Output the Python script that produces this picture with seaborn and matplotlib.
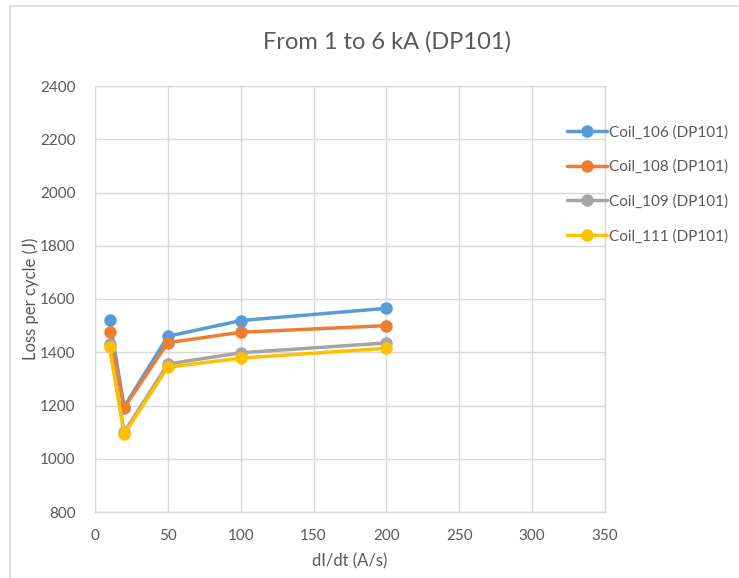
import matplotlib
matplotlib.use("Agg")
import matplotlib.pyplot as plt
from matplotlib.patches import Rectangle
import seaborn as sns
import pandas as pd

# Ramp rate (A/s) and loss per cycle (J) for each coil
didt = [10, 20, 50, 100, 200]
coil_106 = [1522, 1195, 1460, 1519, 1565]
coil_108 = [1476, 1192, 1436, 1475, 1500]
coil_109 = [1431, 1100, 1356, 1398, 1435]
coil_111 = [1418, 1092, 1344, 1378, 1415]
series_names = ["Coil_106 (DP101)", "Coil_108 (DP101)", "Coil_109 (DP101)", "Coil_111 (DP101)"]
palette = ["#5B9BD5", "#ED7D31", "#A5A5A5", "#FFC000"]

x_ticks = [0, 50, 100, 150, 200, 250, 300, 350]
y_ticks = [800, 1000, 1200, 1400, 1600, 1800, 2000, 2200, 2400]

rows = []
for name, vals in zip(series_names, [coil_106, coil_108, coil_109, coil_111]):
    for x, y in zip(didt, vals):
        rows.append({"dI/dt": x, "loss": y, "coil": name})
df = pd.DataFrame(rows)

sns.set_theme(style="white")
plt.rcParams["font.family"] = ["Lato", "DejaVu Sans"]

text_color = "#595959"
grid_color = "#D9D9D9"

fig = plt.figure(figsize=(7.39, 5.78), dpi=100)
W, H = 739, 578
ax = fig.add_axes([95 / W, 1 - 512 / H, (605 - 95) / W, (512 - 86) / H])

sns.lineplot(data=df, x="dI/dt", y="loss", hue="coil", hue_order=series_names,
             palette=palette, marker="o", markersize=9, markeredgewidth=0,
             linewidth=2.5, ax=ax, legend=True, sort=False)

ax.set_xlim(0, 350)
ax.set_ylim(800, 2400)
ax.set_xticks(x_ticks)
ax.set_yticks(y_ticks)
ax.grid(True, color=grid_color, linewidth=1)
ax.set_axisbelow(True)
for s in ax.spines.values():
    s.set_color(grid_color)
    s.set_linewidth(1)
ax.tick_params(axis="both", colors=text_color, labelsize=11, length=0, pad=12)
ax.tick_params(axis="y", pad=14)
ax.set_xlabel("dI/dt (A/s)", fontsize=12, color=text_color, labelpad=8)
ax.set_ylabel("Loss per cycle (J)", fontsize=12, color=text_color)
ax.yaxis.set_label_coords((39 - 95) / (605 - 95), 0.5)

handles, labels = ax.get_legend_handles_labels()
ax.legend(handles, labels, loc="upper left", bbox_to_anchor=(561 / W, 1 - 119 / H),
          bbox_transform=fig.transFigure, frameon=False, fontsize=11,
          labelcolor=text_color, handlelength=2.6, handletextpad=0.15,
          labelspacing=1.33, borderaxespad=0)

fig.text(387 / W, 1 - 42 / H, "From 1 to 6 kA (DP101)",
         ha="center", va="center", fontsize=17, color=text_color)

# chart area border
fig.patches.append(Rectangle((10 / W, -0.05), 1.05, 1 - 6 / H + 0.05,
                             transform=fig.transFigure, fill=False,
                             edgecolor="#D9D9D9", linewidth=1.2))

fig.savefig("out.png", dpi=100)
